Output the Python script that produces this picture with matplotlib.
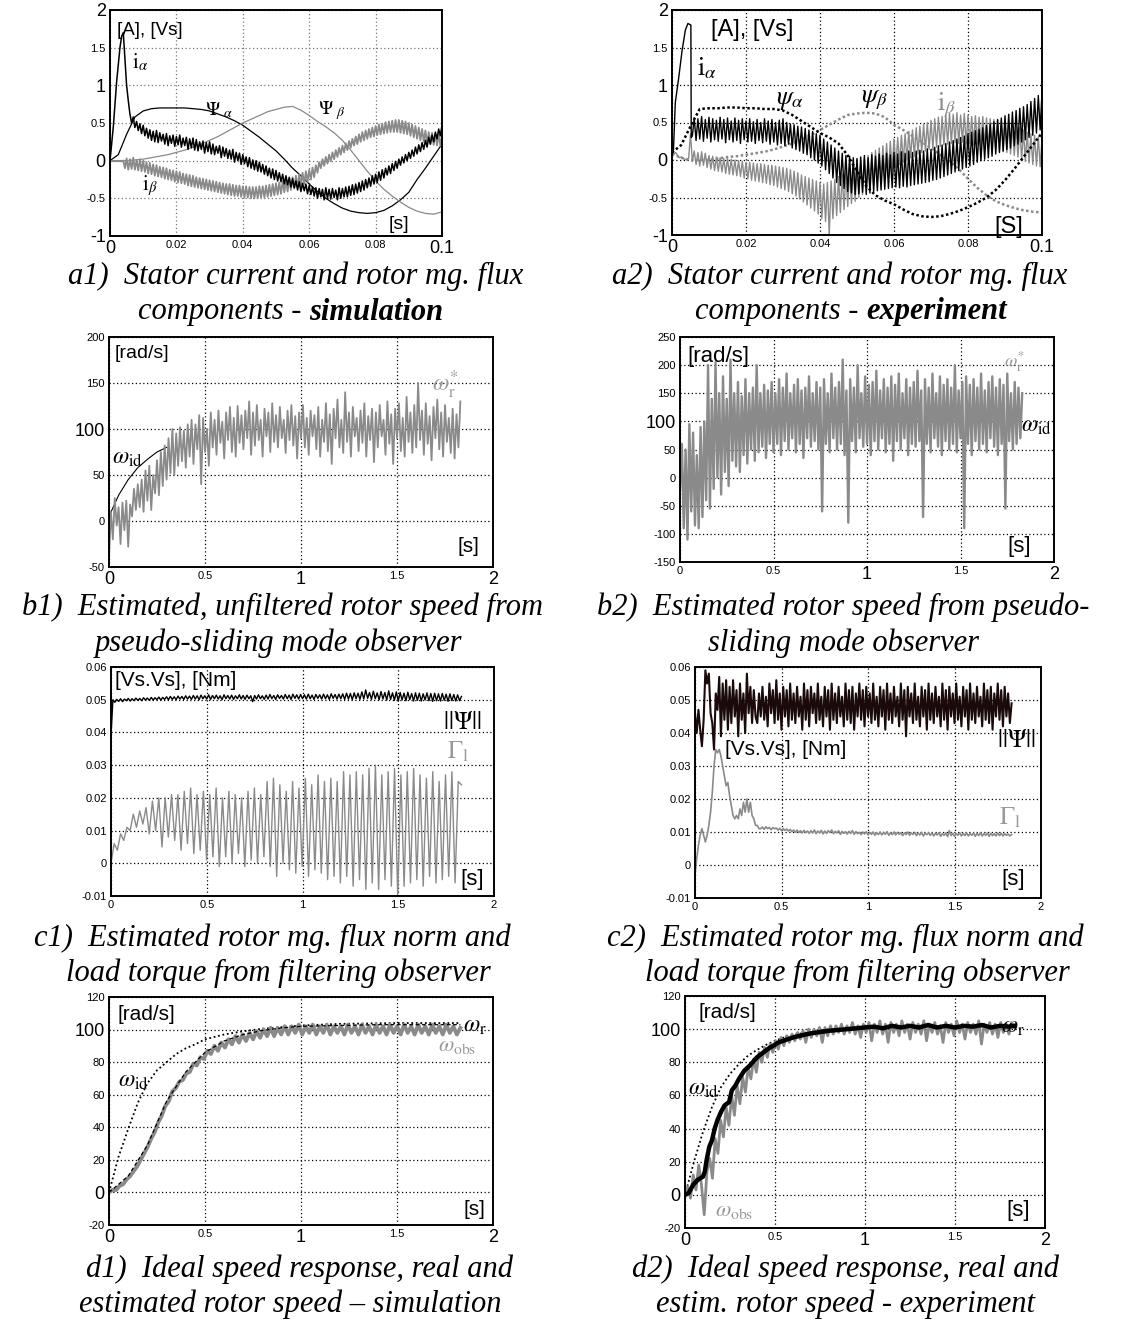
import matplotlib

matplotlib.use("Agg")

import matplotlib.pyplot as plt
import numpy as np

W, H = 1121, 1324
plt.rcParams["mathtext.fontset"] = "stix"
TICK_FONT = ["Liberation Sans Narrow", "Liberation Sans", "DejaVu Sans"]
UNIT_FONT = ["Liberation Sans", "DejaVu Sans"]
SERIF = ["Liberation Serif", "DejaVu Serif"]
GRAY = "#8a8a8a"
BIG, SMALL = 13, 8
CAP_FS = 22

# ---------------- a1: simulation, currents and fluxes ----------------
A1_IA_PEAK_T = [0.0, 0.001, 0.002, 0.003, 0.0035, 0.004, 0.0045, 0.005, 0.0055]
A1_IA_PEAK = [0.0, 0.45, 1.05, 1.5, 1.65, 1.7, 1.35, 1.0, 0.8]
A1_IA = [0.62, 0.50, 0.58, 0.44, 0.52, 0.40, 0.49, 0.36, 0.47, 0.33,
         0.43, 0.30, 0.41, 0.27, 0.39, 0.25, 0.40, 0.24, 0.37, 0.26,
         0.35, 0.22, 0.36, 0.20, 0.33, 0.23, 0.34, 0.19, 0.32, 0.21,
         0.34, 0.18, 0.30, 0.20, 0.31, 0.15, 0.29, 0.17, 0.30, 0.14,
         0.28, 0.13, 0.25, 0.15, 0.26, 0.10, 0.24, 0.12, 0.25, 0.09,
         0.22, 0.08, 0.19, 0.10, 0.20, 0.04, 0.18, 0.06, 0.16, 0.03,
         0.14, 0.02, 0.15, -0.02, 0.11, 0.00, 0.10, -0.05, 0.08, -0.04,
         0.05, -0.08, 0.04, -0.10, 0.01, -0.12, 0.00, -0.14, -0.02, -0.15,
         -0.05, -0.18, -0.07, -0.20, -0.10, -0.23, -0.11, -0.25, -0.13, -0.27,
         -0.16, -0.28, -0.18, -0.31, -0.20, -0.32, -0.22, -0.35, -0.24, -0.36,
         -0.27, -0.39, -0.28, -0.41, -0.30, -0.40, -0.31, -0.44, -0.33, -0.45,
         -0.35, -0.47, -0.36, -0.50, -0.37, -0.48, -0.38, -0.52, -0.36, -0.50,
         -0.38, -0.51, -0.37, -0.49, -0.39, -0.52, -0.36, -0.50, -0.37, -0.48,
         -0.35, -0.48, -0.34, -0.46, -0.32, -0.45, -0.31, -0.43, -0.29, -0.41,
         -0.27, -0.39, -0.25, -0.36, -0.23, -0.34, -0.20, -0.31, -0.18, -0.29,
         -0.15, -0.26, -0.12, -0.23, -0.10, -0.19, -0.07, -0.17, -0.04, -0.13,
         -0.01, -0.10, 0.02, -0.06, 0.05, -0.03, 0.08, 0.00, 0.11, 0.03,
         0.14, 0.06, 0.18, 0.09, 0.21, 0.12, 0.24, 0.15, 0.27, 0.18,
         0.31, 0.22, 0.34, 0.25, 0.38, 0.29, 0.42, 0.33, 0.47]
A1_IB = [0.0, -0.10, 0.03, -0.12, 0.02, -0.11, 0.04, -0.12, 0.01, -0.13,
         0.02, -0.14, 0.0, -0.15, -0.02, -0.17, -0.03, -0.18, -0.05, -0.20,
         -0.06, -0.21, -0.08, -0.22, -0.09, -0.24, -0.10, -0.25, -0.12, -0.26,
         -0.13, -0.28, -0.14, -0.29, -0.15, -0.30, -0.17, -0.31, -0.18, -0.33,
         -0.19, -0.34, -0.20, -0.35, -0.22, -0.36, -0.23, -0.37, -0.24, -0.38,
         -0.25, -0.39, -0.26, -0.40, -0.27, -0.41, -0.28, -0.42, -0.29, -0.43,
         -0.30, -0.44, -0.31, -0.45, -0.31, -0.46, -0.32, -0.47, -0.33, -0.47,
         -0.33, -0.48, -0.34, -0.49, -0.34, -0.49, -0.35, -0.50, -0.35, -0.50,
         -0.35, -0.50, -0.34, -0.49, -0.34, -0.49, -0.33, -0.48, -0.32, -0.47,
         -0.31, -0.46, -0.30, -0.45, -0.29, -0.44, -0.27, -0.42, -0.26, -0.41,
         -0.24, -0.39, -0.22, -0.37, -0.20, -0.35, -0.18, -0.33, -0.16, -0.31,
         -0.14, -0.28, -0.12, -0.25, -0.09, -0.22, -0.06, -0.16, -0.02, -0.10,
         0.02, -0.07, 0.05, -0.04, 0.08, -0.01, 0.11, 0.02, 0.14, 0.05,
         0.17, 0.08, 0.20, 0.11, 0.23, 0.14, 0.26, 0.17, 0.29, 0.20,
         0.32, 0.22, 0.35, 0.25, 0.38, 0.27, 0.40, 0.29, 0.42, 0.31,
         0.44, 0.32, 0.46, 0.34, 0.48, 0.35, 0.49, 0.36, 0.51, 0.37,
         0.52, 0.38, 0.53, 0.38, 0.54, 0.38, 0.54, 0.37, 0.53, 0.36,
         0.52, 0.35, 0.50, 0.33, 0.48, 0.31, 0.46, 0.29, 0.44, 0.27,
         0.42, 0.25, 0.40, 0.23, 0.38, 0.22, 0.37, 0.21, 0.36, 0.20,
         0.35, 0.20, 0.34]
A1_PSI_A = [0.0, 0.08, 0.35, 0.58, 0.66, 0.69, 0.70, 0.70, 0.70, 0.70,
            0.69, 0.68, 0.66, 0.62, 0.58, 0.53, 0.47, 0.39, 0.31, 0.22,
            0.13, 0.02, -0.10, -0.20, -0.31, -0.41, -0.50, -0.57, -0.63, -0.67,
            -0.69, -0.70, -0.69, -0.66, -0.60, -0.52, -0.42, -0.25, -0.10, 0.06,
            0.22]
A1_PSI_B = [0.0, 0.0, 0.0, 0.01, 0.02, 0.04, 0.06, 0.08, 0.11, 0.14,
            0.18, 0.22, 0.27, 0.32, 0.38, 0.44, 0.50, 0.55, 0.60, 0.65,
            0.68, 0.71, 0.72, 0.67, 0.60, 0.52, 0.45, 0.37, 0.27, 0.14,
            0.0, -0.14, -0.27, -0.38, -0.47, -0.55, -0.62, -0.67, -0.70, -0.71,
            -0.68]

# ---------------- a2: experiment, currents and fluxes ----------------
A2_IA_PEAK_T = [0.0, 0.0004, 0.0009, 0.0018, 0.0027, 0.0036, 0.0043, 0.0051, 0.0052]
A2_IA_PEAK = [0.05, 0.14, 0.77, 1.09, 1.45, 1.73, 1.82, 1.8, 0.3]
A2_IA = [0.32, 0.56, 0.26, 0.55, 0.28, 0.58, 0.25, 0.54, 0.29, 0.57,
         0.24, 0.55, 0.27, 0.53, 0.25, 0.57, 0.28, 0.54, 0.23, 0.56,
         0.27, 0.52, 0.24, 0.56, 0.26, 0.53, 0.22, 0.55, 0.27, 0.52,
         0.24, 0.55, 0.25, 0.51, 0.22, 0.54, 0.26, 0.50, 0.23, 0.55,
         0.25, 0.52, 0.21, 0.54, 0.24, 0.50, 0.20, 0.53, 0.22, 0.55,
         0.19, 0.50, 0.21, 0.48, 0.16, 0.47, 0.14, 0.45, 0.12, 0.44,
         0.09, 0.42, 0.07, 0.40, 0.03, 0.38, 0.0, 0.35, -0.04, 0.33,
         -0.08, 0.28, -0.13, 0.24, -0.18, 0.20, -0.24, 0.16, -0.30, 0.12,
         -0.34, 0.09, -0.38, 0.06, -0.42, 0.05, -0.44, 0.03, -0.46, 0.02,
         -0.45, 0.04, -0.43, 0.06, -0.46, 0.03, -0.44, 0.07, -0.42, 0.05,
         -0.41, 0.08, -0.40, 0.06, -0.39, 0.09, -0.38, 0.07, -0.37, 0.10,
         -0.36, 0.08, -0.37, 0.11, -0.35, 0.09, -0.36, 0.12, -0.34, 0.10,
         -0.33, 0.12, -0.32, 0.13, -0.31, 0.12, -0.30, 0.15, -0.29, 0.14,
         -0.27, 0.17, -0.26, 0.19, -0.24, 0.20, -0.22, 0.22, -0.20, 0.24,
         -0.18, 0.26, -0.16, 0.28, -0.14, 0.30, -0.12, 0.32, -0.10, 0.35,
         -0.08, 0.37, -0.06, 0.39, -0.03, 0.41, -0.01, 0.43, 0.01, 0.46,
         0.03, 0.48, 0.05, 0.51, 0.08, 0.54, 0.10, 0.56, 0.12, 0.59,
         0.14, 0.61, 0.16, 0.64, 0.19, 0.66, 0.21, 0.69, 0.24, 0.71,
         0.27, 0.74, 0.30, 0.78, 0.33, 0.82, 0.36, 0.86, 0.40, 0.90]
A2_IB = [0.05, 0.08, 0.10, 0.06, 0.03, 0.04, 0.02, 0.01, 0.0, 0.02,
         0.35, -0.02, 0.12, -0.06, 0.10, -0.08, 0.11, -0.07, 0.09, -0.10,
         0.06, -0.12, 0.05, -0.14, 0.04, -0.15, 0.03, -0.16, 0.02, -0.18,
         0.02, -0.19, 0.01, -0.20, 0.0, -0.21, -0.01, -0.22, -0.02, -0.24,
         -0.03, -0.25, -0.03, -0.27, -0.04, -0.28, -0.05, -0.29, -0.05, -0.30,
         -0.06, -0.31, -0.07, -0.33, -0.07, -0.34, -0.08, -0.36, -0.09, -0.38,
         -0.10, -0.40, -0.11, -0.42, -0.13, -0.45, -0.15, -0.48, -0.17, -0.52,
         -0.20, -0.56, -0.22, -0.60, -0.24, -0.64, -0.26, -0.68, -0.28, -0.72,
         -0.30, -0.78, -0.32, -0.82, -0.30, -1.0, -0.28, -0.78, -0.26, -0.74,
         -0.22, -0.70, -0.19, -0.66, -0.16, -0.62, -0.13, -0.58, -0.10, -0.55,
         -0.06, -0.50, -0.02, -0.46, 0.02, -0.42, 0.06, -0.38, 0.10, -0.34,
         0.13, -0.30, 0.16, -0.26, 0.19, -0.22, 0.22, -0.18, 0.25, -0.14,
         0.28, -0.10, 0.30, -0.06, 0.33, -0.03, 0.35, 0.0, 0.38, 0.03,
         0.40, 0.05, 0.43, 0.08, 0.45, 0.10, 0.48, 0.12, 0.50, 0.14,
         0.53, 0.15, 0.55, 0.17, 0.57, 0.18, 0.58, 0.20, 0.60, 0.21,
         0.62, 0.22, 0.61, 0.23, 0.63, 0.22, 0.60, 0.24, 0.62, 0.21,
         0.60, 0.22, 0.58, 0.20, 0.59, 0.21, 0.57, 0.19, 0.58, 0.18,
         0.56, 0.17, 0.55, 0.16, 0.54, 0.14, 0.53, 0.13, 0.52, 0.11,
         0.50, 0.10, 0.49, 0.08, 0.47, 0.06, 0.45, 0.04, 0.43, 0.01,
         0.40, -0.02, 0.37, -0.04, 0.35, -0.06, 0.33, -0.08, 0.31, -0.09,
         0.28]
A2_PSI_A = [0.10, 0.20, 0.45, 0.68, 0.69, 0.69, 0.70, 0.70, 0.69, 0.69,
            0.68, 0.68, 0.66, 0.60, 0.52, 0.44, 0.36, 0.30, 0.22, 0.06,
            -0.15, -0.35, -0.47, -0.54, -0.59, -0.66, -0.72, -0.75, -0.76, -0.75,
            -0.72, -0.68, -0.63, -0.57, -0.50, -0.40, -0.27, -0.12, 0.04, 0.20,
            0.36]
A2_PSI_B = [0.08, 0.03, 0.0, 0.0, 0.0, 0.02, 0.04, 0.05, 0.07, 0.09,
            0.11, 0.14, 0.18, 0.22, 0.27, 0.33, 0.40, 0.47, 0.54, 0.60,
            0.62, 0.63, 0.62, 0.57, 0.47, 0.40, 0.32, 0.24, 0.16, 0.07,
            -0.02, -0.12, -0.25, -0.37, -0.47, -0.55, -0.60, -0.64, -0.67, -0.69,
            -0.70]

# ---------------- b1 / b2: estimated rotor speed ----------------
# only the visible start of the ideal response in b1 (the rest is hidden by the estimate)
B1_ID_T = [0, 0.05, 0.1, 0.15, 0.2, 0.25, 0.3]
B1_ID = [5, 28, 45, 58, 67, 75, 80]
B1_W = [-40, 10, -20, 25, -5, 15, -25, 20, -10, 22, -28, 18, 5, 35, 12, 40, 15, 45, 10, 55,
        22, 60, 12, 50, 30, 66, 28, 75, 38, 82, 45, 90, 52, 100, 50, 95, 60, 102, 65, 98,
        58, 105, 70, 110, 62, 105, 78, 115, 40, 112, 75, 100, 60, 118, 80, 110, 72, 120, 85, 108,
        68, 118, 88, 124, 75, 112, 70, 125, 85, 115, 78, 120, 90, 130, 72, 118, 82, 126, 88, 110,
        70, 122, 92, 118, 75, 128, 86, 115, 80, 124, 90, 110, 74, 120, 88, 126, 82, 114, 68, 118,
        90, 126, 80, 112, 72, 120, 92, 115, 78, 124, 70, 110, 86, 128, 76, 116, 62, 122, 90, 132,
        80, 110, 74, 140, 86, 118, 70, 124, 92, 112, 76, 120, 85, 128, 70, 114, 88, 122, 64, 118,
        80, 126, 92, 110, 72, 130, 84, 116, 62, 122, 90, 128, 76, 112, 70, 135, 86, 118, 74, 126,
        80, 150, 88, 120, 72, 128, 84, 114, 66, 124, 90, 132, 78, 118, 70, 126, 86, 112, 74, 122,
        68, 116, 80, 130]
B2_W = [-20, 60, -90, 50, -110, 95, -60, 80, -85, 40, -90, 90, -70, 100, -40, 200, -55, 140, -20, 205,
        0, 150, -30, 180, 10, 140, -15, 210, 30, 150, 20, 170, 10, 145, 40, 175, 25, 150, 50, 160,
        30, 200, 45, 150, 55, 165, 35, 155, 60, 170, 45, 150, 60, 175, 40, 160, 65, 185, 50, 150,
        70, 165, 45, 175, 60, 155, 35, 160, 70, 180, 55, 150, 65, 170, 50, 160, -60, 175, 60, 150,
        45, 185, 70, 160, 50, 170, 60, 210, 40, 155, -80, 175, 65, 160, 45, 200, 70, 150, 55, 180,
        60, 165, 40, 170, 65, 190, 50, 155, 70, 175, 45, 160, 60, 180, 30, 165, 65, 185, 50, 150,
        70, 175, 40, 160, 60, 170, 55, 190, 65, 155, -70, 175, 60, 160, 45, 185, 70, 150, 55, 180,
        40, 165, 65, 175, 50, 160, 60, 200, 45, 155, 70, 170, -90, 180, 60, 165, 40, 175, 65, 160,
        50, 185, 60, 155, 45, 170, 70, 180, 55, 160, 40, 175, 60, 165, -55, 185, 65, 150, 50, 170,
        60, 160, 70, 150]

# ---------------- c1 / c2: flux norm and load torque ----------------
C1_PSI = [0.039, 0.0500, 0.0492, 0.0501, 0.0495, 0.0503, 0.0494, 0.0502, 0.0497, 0.0504,
          0.0496, 0.0503, 0.0497, 0.0505, 0.0498, 0.0504, 0.0497, 0.0506, 0.0499, 0.0505,
          0.0498, 0.0507, 0.0499, 0.0506, 0.0500, 0.0508, 0.0499, 0.0507, 0.0501, 0.0509,
          0.0500, 0.0510, 0.0501, 0.0509, 0.0500, 0.0511, 0.0502, 0.0510, 0.0501, 0.0512,
          0.0502, 0.0511, 0.0501, 0.0513, 0.0502, 0.0512, 0.0500, 0.0514, 0.0503, 0.0512,
          0.0502, 0.0515, 0.0501, 0.0513, 0.0503, 0.0514, 0.0502, 0.0512, 0.0500, 0.0515,
          0.0503, 0.0513, 0.0502, 0.0514, 0.0501, 0.0512, 0.0503, 0.0515, 0.0502, 0.0513,
          0.0501, 0.0514, 0.0503, 0.0512, 0.0494, 0.0513, 0.0502, 0.0515, 0.0503, 0.0512,
          0.0501, 0.0514, 0.0502, 0.0516, 0.0503, 0.0513, 0.0501, 0.0515, 0.0504, 0.0513,
          0.0502, 0.0516, 0.0503, 0.0514, 0.0501, 0.0517, 0.0504, 0.0515, 0.0502, 0.0516,
          0.0503, 0.0515, 0.0502, 0.0517, 0.0503, 0.0514, 0.0501, 0.0516, 0.0504, 0.0515,
          0.0502, 0.0517, 0.0503, 0.0515, 0.0501, 0.0518, 0.0504, 0.0516, 0.0502, 0.0517,
          0.0503, 0.0518, 0.0501, 0.0520, 0.0502, 0.0519, 0.0500, 0.0521, 0.0503, 0.0520,
          0.0501, 0.0524, 0.0502, 0.0530, 0.0504, 0.0522, 0.0501, 0.0526, 0.0503, 0.0521,
          0.0500, 0.0525, 0.0502, 0.0522, 0.0499, 0.0527, 0.0501, 0.0521, 0.0498, 0.0524,
          0.0496, 0.0522, 0.0499, 0.0520, 0.0497, 0.0523, 0.0500, 0.0519, 0.0496, 0.0521,
          0.0498, 0.0520, 0.0496, 0.0518, 0.0499, 0.0521, 0.0497, 0.0519, 0.0495, 0.0520,
          0.0497, 0.0518, 0.0496, 0.0519, 0.0498, 0.0517, 0.0495, 0.0518, 0.0497, 0.0516,
          0.0496, 0.0515, 0.0497, 0.0510]
C1_TL = [0.000, 0.006, 0.004, 0.009, 0.007, 0.011, 0.010, 0.015, 0.011, 0.016,
         0.012, 0.017, 0.009, 0.019, 0.010, 0.020, 0.005, 0.020, 0.008, 0.021,
         0.007, 0.021, 0.004, 0.022, 0.006, 0.023, 0.003, 0.021, 0.004, 0.022,
         0.001, 0.021, 0.002, 0.023, -0.001, 0.020, 0.002, 0.022, 0.000, 0.021,
         0.003, 0.020, -0.001, 0.022, 0.001, 0.023, 0.000, 0.021, 0.002, 0.025,
         -0.001, 0.026, -0.004, 0.024, 0.000, 0.022, -0.002, 0.025, -0.003, 0.023,
         -0.001, 0.026, -0.004, 0.024, -0.002, 0.027, -0.003, 0.025, -0.005, 0.026,
         -0.004, 0.025, -0.006, 0.028, -0.004, 0.027, -0.007, 0.028, -0.005, 0.027,
         -0.008, 0.029, -0.006, 0.030, -0.008, 0.027, -0.005, 0.028, -0.007, 0.029,
         -0.010, 0.027, -0.007, 0.028, -0.006, 0.029, -0.005, 0.027, -0.007, 0.026,
         -0.004, 0.028, -0.006, 0.025, -0.005, 0.027, -0.004, 0.028, -0.006, 0.025,
         0.024]
C2_PSI = [0.046, 0.040, 0.047, 0.041, 0.036, 0.044, 0.059, 0.055, 0.058, 0.046,
          0.043, 0.035, 0.052, 0.047, 0.057, 0.039, 0.055, 0.044, 0.056, 0.041,
          0.054, 0.043, 0.056, 0.045, 0.053, 0.039, 0.055, 0.044, 0.052, 0.040,
          0.058, 0.046, 0.054, 0.043, 0.053, 0.045,
          0.043, 0.052, 0.045, 0.054, 0.044, 0.051, 0.042, 0.055, 0.046, 0.053,
          0.043, 0.056, 0.044, 0.052, 0.041, 0.054, 0.045, 0.053, 0.042, 0.055,
          0.044, 0.052, 0.043, 0.054, 0.045, 0.051, 0.041, 0.055, 0.044, 0.053,
          0.042, 0.054, 0.046, 0.052, 0.043, 0.055, 0.044, 0.051, 0.042, 0.054,
          0.045, 0.053, 0.041, 0.055, 0.044, 0.052, 0.043, 0.054, 0.045, 0.051,
          0.042, 0.055, 0.044, 0.053, 0.043, 0.054, 0.041, 0.052, 0.045, 0.055,
          0.044, 0.053, 0.042, 0.054, 0.045, 0.052, 0.043, 0.055, 0.044, 0.051,
          0.042, 0.054, 0.045, 0.053, 0.041, 0.055, 0.044, 0.052, 0.043, 0.054,
          0.045, 0.051, 0.042, 0.055, 0.044, 0.053, 0.039, 0.054, 0.045, 0.052,
          0.043, 0.055, 0.044, 0.051, 0.042, 0.054, 0.045, 0.053, 0.041, 0.055,
          0.044, 0.052, 0.043, 0.054, 0.045, 0.051, 0.042, 0.055, 0.044, 0.053,
          0.041, 0.054, 0.045, 0.052, 0.043, 0.055, 0.044, 0.051, 0.042, 0.054,
          0.045, 0.053, 0.041, 0.055, 0.044, 0.052, 0.043, 0.054, 0.045, 0.051,
          0.042, 0.055, 0.044, 0.053, 0.043, 0.054, 0.041, 0.052, 0.045, 0.055,
          0.044, 0.053, 0.042, 0.054, 0.045, 0.052, 0.043, 0.049]
C2_TL = [-0.003, 0.002, 0.006, 0.009, 0.011, 0.009, 0.007, 0.009, 0.012, 0.016,
         0.022, 0.030, 0.035, 0.034, 0.035, 0.033, 0.030, 0.027, 0.024, 0.025,
         0.021, 0.018, 0.015, 0.014, 0.015, 0.014, 0.017, 0.015, 0.019, 0.016,
         0.020, 0.016, 0.019, 0.015, 0.014, 0.012, 0.012, 0.011,
         0.0110, 0.0115, 0.0108, 0.0116, 0.0110, 0.0114, 0.0107, 0.0113, 0.0110, 0.0112,
         0.0106, 0.0111, 0.0104, 0.0110, 0.0105, 0.0109, 0.0103, 0.0108, 0.0101, 0.0106,
         0.0099, 0.0106, 0.0098, 0.0104, 0.0097, 0.0105, 0.0098, 0.0103, 0.0096, 0.0104,
         0.0097, 0.0106, 0.0095, 0.0103, 0.0097, 0.0105, 0.0094, 0.0103, 0.0096, 0.0104,
         0.0098, 0.0106, 0.0095, 0.0102, 0.0097, 0.0104, 0.0093, 0.0102, 0.0096, 0.0101,
         0.0094, 0.0102, 0.0096, 0.0104, 0.0093, 0.0101, 0.0095, 0.0099, 0.0092, 0.0100,
         0.0094, 0.0101, 0.0091, 0.0099, 0.0093, 0.0100, 0.0090, 0.0098, 0.0092, 0.0100,
         0.0091, 0.0099, 0.0093, 0.0101, 0.0090, 0.0098, 0.0092, 0.0100, 0.0091, 0.0099,
         0.0093, 0.0098, 0.0089, 0.0097, 0.0092, 0.0100, 0.0090, 0.0097, 0.0093, 0.0099,
         0.0089, 0.0097, 0.0091, 0.0099, 0.0088, 0.0096, 0.0092, 0.0098, 0.0090, 0.0097,
         0.0088, 0.0096, 0.0091, 0.0098, 0.0087, 0.0095, 0.0090, 0.0097, 0.0086, 0.0104,
         0.0089, 0.0096, 0.0087, 0.0095, 0.0090, 0.0098, 0.0088, 0.0096, 0.0089, 0.0097,
         0.0088, 0.0095, 0.0090, 0.0097, 0.0087, 0.0096, 0.0089, 0.0098, 0.0088, 0.0095,
         0.0090, 0.0097, 0.0087, 0.0096, 0.0089, 0.0095, 0.0088, 0.0097, 0.0089, 0.0096,
         0.0088, 0.0095, 0.0090, 0.0094, 0.0088, 0.0092]

# ---------------- d1 / d2: speed responses ----------------
D1_ID_T = [0, 0.05, 0.1, 0.15, 0.2, 0.25, 0.3, 0.35, 0.4, 0.45, 0.5, 0.6, 0.7, 0.8, 0.9, 1.0, 1.2, 1.5, 1.83]
D1_ID = [0, 22, 39, 55, 67, 75, 80, 85, 88.5, 91, 94, 97, 99, 100.5, 101.5, 102.5, 103.5, 104, 104]
D1_R_T = [0, 0.1, 0.2, 0.3, 0.4, 0.5, 0.6, 0.7, 0.8, 0.9, 1.0, 1.2, 1.4, 1.6, 1.83]
D1_R = [0, 10, 29, 56, 74, 86, 93, 97, 99.5, 101, 102, 102.5, 103, 103, 103]
D1_OBS = [0, 1.5, 1.5, 4, 5, 8, 10, 13, 16, 20, 24, 28, 33, 37, 43, 47, 53, 56, 62, 64,
          68, 69, 73, 74, 79, 78, 83, 82, 87, 85, 90, 87, 92, 89, 94, 91, 96, 92, 97, 93,
          98, 94, 99, 95, 100, 96, 101, 96, 101, 97, 102,
          97, 102, 98, 103, 97, 102, 98, 103, 97, 102, 98, 103, 97, 102, 98, 102, 97, 103, 98, 102,
          97, 103, 98, 102, 97, 103, 98, 102, 97, 103, 98, 102, 97, 103, 98, 102, 97, 103, 98, 102,
          97, 103, 98, 102, 97, 103, 98, 102, 97, 101]
D2_ID_T = [0, 0.05, 0.1, 0.15, 0.2, 0.25, 0.3, 0.35, 0.4, 0.45, 0.5, 0.55, 0.6, 0.7, 0.8, 1.0, 1.3, 1.83]
D2_ID = [0, 20, 38, 53, 65, 73, 79, 84, 87.5, 90.5, 93, 95, 96.5, 98.5, 100, 101, 101.5, 101.5]
D2_R_T = [0, 0.02, 0.045, 0.07, 0.1, 0.11, 0.12, 0.135, 0.15, 0.165, 0.18, 0.2, 0.22, 0.245,
          0.26, 0.28, 0.3, 0.33, 0.36, 0.4, 0.46, 0.52, 0.6, 0.7, 0.8, 0.9, 1.0,
          1.05, 1.1, 1.15, 1.2, 1.25, 1.3, 1.35, 1.4, 1.45, 1.5, 1.55, 1.6, 1.65, 1.7, 1.75, 1.8, 1.83]
D2_R = [0, 1, 6, 9, 11, 14, 21, 29, 33, 40, 45, 50, 54, 56,
        63, 66, 70, 75, 78, 83, 88, 92, 95, 97.5, 99, 100, 101,
        101.5, 100.5, 102, 101, 102, 101, 102.5, 101, 102, 101, 102, 101.5, 102.5, 101, 102, 101.5, 102]
D2_OBS = [0, 5, -2, 12, 3, 18, 6, -12, 14, 22, 10, 34, 25, 45, 35, 53, 42, 60, 48, 66,
          55, 71, 62, 77, 70, 82, 74, 86, 80, 89, 83, 91, 86, 93, 88, 95, 90, 96, 92, 97,
          93, 98, 94, 99, 92, 100, 95, 100, 96, 101, 92, 101, 96, 102, 97, 102, 98, 103, 97, 102,
          98, 104, 97, 102, 95, 103, 98, 104, 93, 103, 98, 105, 97, 103, 92, 104, 98, 103, 96, 105,
          98, 103, 94, 104, 98, 103, 97, 105, 93, 103, 98, 104, 97, 102, 92, 104, 98, 103, 96, 105,
          98, 103, 94, 104, 98, 103, 97, 105, 91, 103, 98, 104, 97, 103, 95, 104, 98, 103, 97, 104,
          101]

# axes boxes in pixels: left, right, top, bottom
BOX = {
    "a1": (110, 442, 10, 236), "a2": (672, 1042, 10, 235),
    "b1": (109, 493, 337, 567), "b2": (680, 1054, 337, 562),
    "c1": (111, 494, 667, 896), "c2": (695, 1041, 667, 898),
    "d1": (109, 493, 997, 1225), "d2": (685, 1045, 996, 1228),
}

fig = plt.figure(figsize=(W / 100, H / 100), dpi=100)


def make_axes(key, grid_color="black"):
    l, r, t, b = BOX[key]
    ax = fig.add_axes([l / W, 1 - b / H, (r - l) / W, (b - t) / H])
    for sp in ax.spines.values():
        sp.set_linewidth(1.4)
    ax.tick_params(length=0, pad=3)
    ax.grid(True, color=grid_color, linestyle=(0, (1, 2)), linewidth=0.9)
    ax.set_axisbelow(True)
    return ax


def set_ticks(ax, xt, xl, xs, yt, yl, ys):
    ax.set_xlim(xt[0], xt[-1])
    ax.set_ylim(yt[0], yt[-1])
    ax.set_xticks(xt)
    ax.set_xticklabels(xl)
    ax.set_yticks(yt)
    ax.set_yticklabels(yl)
    for lab, s in zip(ax.get_xticklabels(), xs):
        lab.set_fontsize(s)
        lab.set_family(TICK_FONT)
    for lab, s in zip(ax.get_yticklabels(), ys):
        lab.set_fontsize(s)
        lab.set_family(TICK_FONT)


def unit(ax, x, y, s, size, color="black"):
    ax.text(x, y, s, transform=ax.transAxes, family=UNIT_FONT, fontsize=size,
            color=color, ha="left", va="center")


def sym(ax, x, y, s, size, color="black"):
    ax.text(x, y, s, transform=ax.transAxes, fontsize=size, color=color,
            ha="left", va="center")


def caption(xc, y, parts):
    texts = [fig.text(0, 1 - y / H, s, family=SERIF, style="italic", weight=w,
                      fontsize=CAP_FS, ha="left", va="center") for s, w in parts]
    rend = fig.canvas.get_renderer()
    widths = [t.get_window_extent(rend).width for t in texts]
    x = xc - sum(widths) / 2
    for t, wd in zip(texts, widths):
        t.set_x(x / W)
        x += wd


A_XT = [0, 0.02, 0.04, 0.06, 0.08, 0.1]
A_XL = ["0", "0.02", "0.04", "0.06", "0.08", "0.1"]
A_XS = [BIG, SMALL, SMALL, SMALL, SMALL, BIG]
A_YT = [-1, -0.5, 0, 0.5, 1, 1.5, 2]
A_YL = ["-1", "-0.5", "0", "0.5", "1", "1.5", "2"]
A_YS = [BIG, SMALL, BIG, SMALL, BIG, SMALL, BIG]
S_XT = [0, 0.5, 1, 1.5, 2]
S_XL = ["0", "0.5", "1", "1.5", "2"]

# a1
ax = make_axes("a1", grid_color="#777777")
set_ticks(ax, A_XT, A_XL, A_XS, A_YT, A_YL, A_YS)
ax.plot(np.linspace(0, 0.1, len(A1_PSI_A)), A1_PSI_A, color="black", lw=0.9)
ax.plot(np.linspace(0, 0.1, len(A1_PSI_B)), A1_PSI_B, color=GRAY, lw=0.9)
ax.plot([0, 0.004], [0, 0], color=GRAY, lw=1.5)
ax.plot(np.linspace(0.004, 0.1, len(A1_IB)), A1_IB, color=GRAY, lw=1.3)
ax.plot(A1_IA_PEAK_T + list(np.linspace(0.006, 0.1, len(A1_IA))), A1_IA_PEAK + A1_IA,
        color="black", lw=1.1)
unit(ax, 0.02, 0.911, "[A], [Vs]", 13.5)
sym(ax, 0.066, 0.77, r"$\mathrm{i}_{\alpha}$", 15)
sym(ax, 0.285, 0.556, r"$\Psi_{\ \alpha}$", 14)
sym(ax, 0.625, 0.556, r"$\Psi_{\ \beta}$", 14)
sym(ax, 0.096, 0.222, r"$\mathrm{i}_{\beta}$", 15)
unit(ax, 0.839, 0.052, "[s]", 14)

# a2
ax = make_axes("a2")
set_ticks(ax, A_XT, A_XL, A_XS, A_YT, A_YL, A_YS)
ax.plot(np.linspace(0, 0.1, len(A2_PSI_B)), A2_PSI_B, color=GRAY, lw=1.8, ls=(0, (1, 1)))
ax.plot(np.linspace(0, 0.1, len(A2_IB)), A2_IB, color=GRAY, lw=1.0)
ax.plot(np.linspace(0, 0.1, len(A2_PSI_A)), A2_PSI_A, color="black", lw=1.8, ls=(0, (1, 1)))
ax.plot(A2_IA_PEAK_T + list(np.linspace(0.0055, 0.1, len(A2_IA))), A2_IA_PEAK + A2_IA,
        color="black", lw=1.0)
unit(ax, 0.106, 0.91, "[A], [Vs]", 17)
sym(ax, 0.068, 0.739, r"$\mathrm{i}_{\alpha}$", 19)
sym(ax, 0.28, 0.604, r"$\psi_{\alpha}$", 19)
sym(ax, 0.512, 0.604, r"$\psi_{\beta}$", 19)
sym(ax, 0.715, 0.575, r"$\mathrm{i}_{\beta}$", 19, color=GRAY)
unit(ax, 0.87, 0.037, "[S]", 17)

# b1
ax = make_axes("b1")
set_ticks(ax, S_XT, S_XL, [BIG, SMALL, BIG, SMALL, BIG],
          [-50, 0, 50, 100, 150, 200], ["-50", "0", "50", "100", "150", "200"],
          [SMALL, SMALL, SMALL, BIG, SMALL, SMALL])
ax.plot(B1_ID_T, B1_ID, color="black", lw=0.8)
ax.plot(np.linspace(0, 1.83, len(B1_W)), B1_W, color=GRAY, lw=1.3)
unit(ax, 0.014, 0.928, "[rad/s]", 14)
sym(ax, 0.842, 0.79, r"$\omega^{*}_{\mathrm{r}}$", 17, color="#999999")
sym(ax, 0.009, 0.478, r"$\omega_{\mathrm{id}}$", 17)
unit(ax, 0.907, 0.087, "[s]", 15)

# b2
ax = make_axes("b2")
set_ticks(ax, S_XT, S_XL, [SMALL, SMALL, BIG, SMALL, BIG],
          [-150, -100, -50, 0, 50, 100, 150, 200, 250],
          ["-150", "-100", "-50", "0", "50", "100", "150", "200", "250"],
          [SMALL, SMALL, SMALL, SMALL, SMALL, BIG, SMALL, SMALL, SMALL])
ax.plot(np.linspace(0, 1.83, len(B2_W)), B2_W, color=GRAY, lw=1.7)
unit(ax, 0.021, 0.914, "[rad/s]", 16)
sym(ax, 0.865, 0.892, r"$\omega^{*}_{\mathrm{r}}$", 13, color="#999999")
sym(ax, 0.912, 0.609, r"$\omega_{\mathrm{id}}$", 17)
unit(ax, 0.874, 0.067, "[s]", 16)

C_YT = [-0.01, 0, 0.01, 0.02, 0.03, 0.04, 0.05, 0.06]
C_YL = ["-0.01", "0", "0.01", "0.02", "0.03", "0.04", "0.05", "0.06"]

# c1
ax = make_axes("c1")
set_ticks(ax, S_XT, S_XL, [SMALL] * 5, C_YT, C_YL, [SMALL] * 8)
ax.plot(np.linspace(0, 1.83, len(C1_TL)), C1_TL, color=GRAY, lw=1.0)
ax.plot(np.linspace(0, 1.83, len(C1_PSI)), C1_PSI, color="black", lw=1.0)
unit(ax, 0.011, 0.942, "[Vs.Vs], [Nm]", 15)
sym(ax, 0.867, 0.76, r"$||\Psi||$", 18)
sym(ax, 0.876, 0.63, r"$\Gamma_{\mathrm{l}}$", 18, color="#999999")
unit(ax, 0.913, 0.07, "[s]", 16)

# c2
ax = make_axes("c2")
set_ticks(ax, S_XT, S_XL, [SMALL] * 5, C_YT, C_YL, [SMALL] * 8)
ax.plot(np.linspace(0, 1.83, len(C2_PSI)), C2_PSI, color="#1a0a0a", lw=1.5)
ax.plot(np.linspace(0, 1.83, len(C2_TL)), C2_TL, color=GRAY, lw=1.2)
unit(ax, 0.088, 0.645, "[Vs.Vs], [Nm]", 15)
sym(ax, 0.874, 0.683, r"$||\Psi||$", 18)
sym(ax, 0.879, 0.345, r"$\Gamma_{\mathrm{l}}$", 18, color="#999999")
unit(ax, 0.885, 0.079, "[s]", 16)

D_YT = [-20, 0, 20, 40, 60, 80, 100, 120]
D_YL = ["-20", "0", "20", "40", "60", "80", "100", "120"]
D_YS = [SMALL, BIG, SMALL, SMALL, SMALL, SMALL, BIG, SMALL]
D_XS = [BIG, SMALL, BIG, SMALL, BIG]

# d1
ax = make_axes("d1")
set_ticks(ax, S_XT, S_XL, D_XS, D_YT, D_YL, D_YS)
ax.plot(D1_ID_T, D1_ID, color="black", lw=1.3, ls=(0, (1, 1.5)))
ax.plot(np.linspace(0, 1.83, len(D1_OBS)), D1_OBS, color=GRAY, lw=2.8)
ax.plot(D1_R_T, D1_R, color="black", lw=0.9, ls=(0, (3, 2)))
unit(ax, 0.023, 0.923, "[rad/s]", 15)
sym(ax, 0.923, 0.879, r"$\omega_{\mathrm{r}}$", 17)
sym(ax, 0.857, 0.784, r"$\omega_{\mathrm{obs}}$", 16, color="#999999")
sym(ax, 0.023, 0.637, r"$\omega_{\mathrm{id}}$", 17)
unit(ax, 0.923, 0.067, "[s]", 15)

# d2
ax = make_axes("d2")
set_ticks(ax, S_XT, S_XL, D_XS, D_YT, D_YL, D_YS)
ax.plot(D2_ID_T, D2_ID, color="black", lw=1.3, ls=(0, (1, 1.5)))
ax.plot(np.linspace(0, 1.83, len(D2_OBS)), D2_OBS, color=GRAY, lw=2.0)
ax.plot(D2_R_T, D2_R, color="black", lw=3.2)
unit(ax, 0.038, 0.928, "[rad/s]", 15)
sym(ax, 0.879, 0.87, r"$\omega_{\mathrm{r}}$", 17)
sym(ax, 0.008, 0.604, r"$\omega_{\mathrm{id}}$", 17)
sym(ax, 0.082, 0.072, r"$\omega_{\mathrm{obs}}$", 16, color="#999999")
unit(ax, 0.894, 0.075, "[s]", 16)

# captions
N, B = "normal", "bold"
caption(296, 276, [("a1)  Stator current and rotor mg. flux", N)])
caption(291, 312, [("components - ", N), ("simulation", B)])
caption(840, 276, [("a2)  Stator current and rotor mg. flux", N)])
caption(851, 312, [("components - ", N), ("experiment", B)])
caption(283, 607, [("b1)  Estimated, unfiltered rotor speed from", N)])
caption(279, 643, [("pseudo-sliding mode observer", N)])
caption(843, 607, [("b2)  Estimated rotor speed from pseudo-", N)])
caption(843, 643, [("sliding mode observer", N)])
caption(272, 938, [("c1)  Estimated rotor mg. flux norm and", N)])
caption(278, 973, [("load torque from filtering observer", N)])
caption(845, 938, [("c2)  Estimated rotor mg. flux norm and", N)])
caption(857, 973, [("load torque from filtering observer", N)])
caption(300, 1269, [("d1)  Ideal speed response, real and", N)])
caption(290, 1304, [("estimated rotor speed \u2013 simulation", N)])
caption(845, 1269, [("d2)  Ideal speed response, real and", N)])
caption(845, 1304, [("estim. rotor speed - experiment", N)])

fig.savefig("out.png", dpi=100)
